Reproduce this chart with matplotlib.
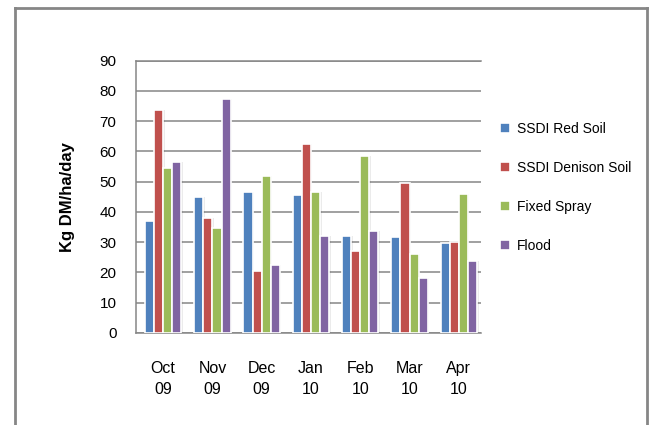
import numpy as np
import matplotlib.pyplot as plt
from matplotlib.lines import Line2D

plt.rcParams['font.family'] = ['Liberation Sans', 'DejaVu Sans']

months = ["Oct\n09", "Nov\n09", "Dec\n09", "Jan\n10", "Feb\n10", "Mar\n10", "Apr\n10"]
red_soil = [37, 45, 46.5, 45.5, 32, 31.7, 29.8]
denison_soil = [73.8, 38, 20.4, 62.5, 27.1, 49.6, 30.1]
fixed_spray = [54.4, 34.7, 52, 46.6, 58.6, 26.1, 46]
flood = [56.5, 77.2, 22.6, 32, 33.7, 18.2, 23.8]

series = [("SSDI Red Soil", red_soil, "#4F81BD"),
          ("SSDI Denison Soil", denison_soil, "#C0504D"),
          ("Fixed Spray", fixed_spray, "#9BBB59"),
          ("Flood", flood, "#8064A2")]

fig = plt.figure(figsize=(6.49, 4.25), dpi=100)
ax = fig.add_axes([136/649, 92/425, 345/649, 272.5/425])

x = np.arange(len(months))
w = 0.185
for i, (name, vals, col) in enumerate(series):
    pos = x - 1.5*w + i*w
    # soft shadow
    ax.bar(pos + 0.03, vals, w, color="#000000", alpha=0.08, zorder=2)
    ax.bar(pos, vals, w, color=col, edgecolor="white", lw=1.2, label=name, zorder=3)

ax.set_ylim(0, 90)
ax.set_xlim(-0.55, 6.45)
ax.set_yticks(range(0, 91, 10))
ax.yaxis.grid(True, color="#868686", lw=1.1)
ax.set_axisbelow(True)
ax.set_xticks(x)
ax.set_xticklabels(months, fontsize=11.5, linespacing=1.5)
ax.tick_params(axis="x", length=0, pad=20)
ax.tick_params(axis="y", length=0, pad=14, labelsize=11)
ax.spines["right"].set_visible(False)
for s in ["left", "bottom", "top"]:
    ax.spines[s].set_color("#868686")
    ax.spines[s].set_linewidth(1.1)
ax.set_ylabel("Kg DM/ha/day", fontsize=12, fontweight="semibold", labelpad=18)

ax.legend(loc="upper left", bbox_to_anchor=(1.02, 0.82), frameon=False,
          fontsize=10, handlelength=0.7, handleheight=0.7, handletextpad=0.5,
          labelspacing=1.8)

# outer chart border
fig.add_artist(Line2D([15/649, 15/649], [0, 417/425], color="#868686", lw=2))
fig.add_artist(Line2D([15/649, 647/649], [417/425, 417/425], color="#868686", lw=2))
fig.add_artist(Line2D([647/649, 647/649], [0, 417/425], color="#868686", lw=2))

plt.savefig("out.png", dpi=100)
